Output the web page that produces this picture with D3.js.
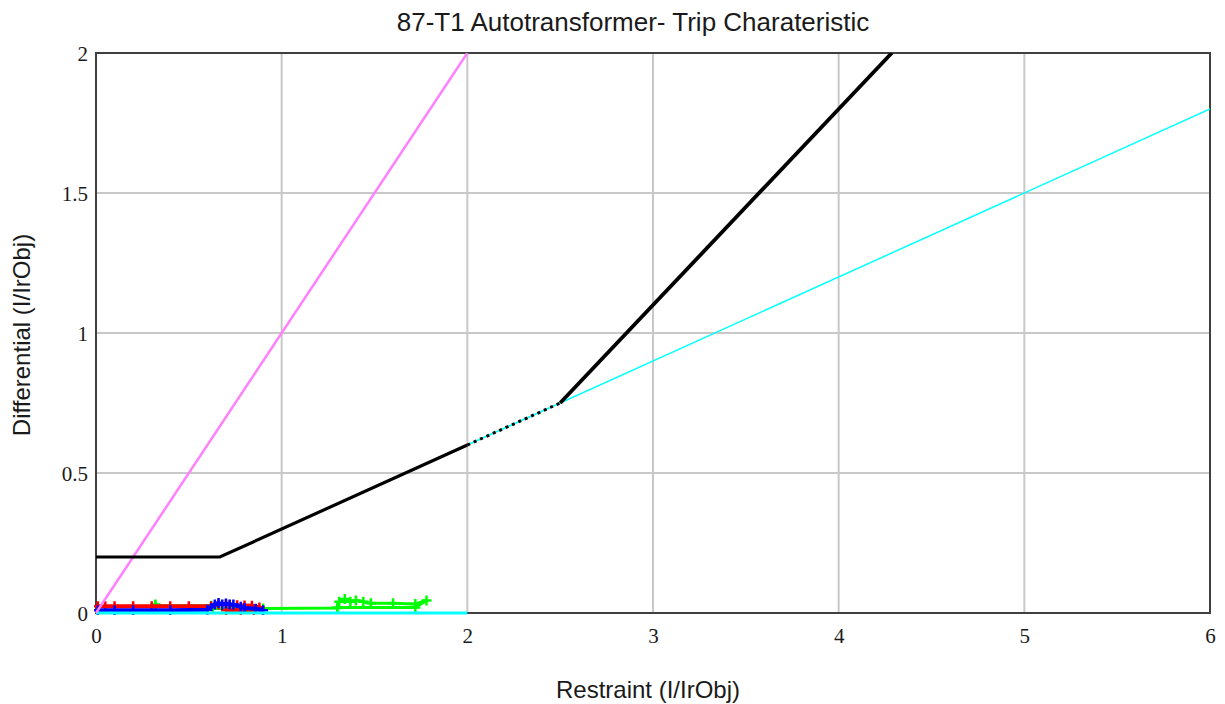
<!DOCTYPE html>
<html lang="en">
<head>
    <meta charset="UTF-8">
    <title>87-T1 Trip Charateristic</title>
    <style>
        body { margin: 0; background: #fff; }
        .tick text { font-family: "Liberation Serif", "DejaVu Serif", serif; font-size: 21px; fill: #1a1a1a; }
        .lbl { font-family: "Liberation Sans", Arial, sans-serif; font-size: 24px; fill: #1a1a1a; }
    </style>
</head>
<body>
<svg id="chart" width="1225" height="704"></svg>
<script src="https://cdn.jsdelivr.net/npm/d3@7"></script>
<script>
    // axis ticks
    let xTicks = [0, 1, 2, 3, 4, 5, 6]
    let yTicks = [0, 0.5, 1, 1.5, 2]

    // trip characteristic (black)
    let charX = [0, 0.667, 2, 2.5, 4.286]
    let charY = [0.2, 0.2, 0.6, 0.75, 2]

    // slope line (cyan)
    let slopeX = [2, 6]
    let slopeY = [0.6, 1.8]
    let baseX = [0, 2]
    let baseY = [0, 0]

    // unrestrained / instantaneous line (magenta)
    let instX = [0, 2]
    let instY = [0, 2]

    // test points
    let redX = [0.01, 0.05, 0.1, 0.2, 0.3, 0.4, 0.5, 0.62, 0.66, 0.7, 0.72, 0.76, 0.8, 0.84, 0.88, 0.85, 0.78, 0.7]
    let redY = [0.024, 0.024, 0.024, 0.024, 0.024, 0.024, 0.024, 0.024, 0.03, 0.03, 0.028, 0.028, 0.027, 0.026, 0.02, 0.01, 0.01, 0.01]
    let blueX = [0.01, 0.1, 0.2, 0.4, 0.6, 0.64, 0.66, 0.68, 0.7, 0.72, 0.74, 0.78, 0.8, 0.86, 0.9]
    let blueY = [0.01, 0.01, 0.01, 0.01, 0.012, 0.03, 0.036, 0.03, 0.034, 0.03, 0.03, 0.022, 0.018, 0.015, 0.01]
    let greenX = [0.32, 0.32, 0.62, 0.63, 0.9, 1.3, 1.31, 1.34, 1.37, 1.4, 1.44, 1.48, 1.6, 1.72, 1.78, 1.72, 1.3]
    let greenY = [0.03, 0.026, 0.026, 0.016, 0.016, 0.018, 0.04, 0.05, 0.04, 0.045, 0.04, 0.035, 0.035, 0.032, 0.045, 0.02, 0.02]

    let svg = d3.select("#chart")
    let m = {left: 96, top: 53, right: 1210, bottom: 613}

    let x = d3.scaleLinear().domain([0, 6]).range([m.left, m.right])
    let y = d3.scaleLinear().domain([0, 2]).range([m.bottom, m.top])

    svg.append("defs").append("clipPath").attr("id", "clip")
        .append("rect").attr("x", m.left - 2).attr("y", m.top)
        .attr("width", m.right - m.left + 2).attr("height", m.bottom - m.top + 2)

    // grid
    let grid = svg.append("g")
    grid.selectAll(".gx").data(xTicks.slice(1, -1)).enter().append("line")
        .attr("x1", d => x(d)).attr("x2", d => x(d))
        .attr("y1", m.top).attr("y2", m.bottom)
        .attr("stroke", "#c8c8c8").attr("stroke-width", 2)
    grid.selectAll(".gy").data(yTicks.slice(1, -1)).enter().append("line")
        .attr("x1", m.left).attr("x2", m.right)
        .attr("y1", d => y(d)).attr("y2", d => y(d))
        .attr("stroke", "#c8c8c8").attr("stroke-width", 2)

    // frame (under the data)
    svg.append("rect").attr("x", m.left).attr("y", m.top)
        .attr("width", m.right - m.left).attr("height", m.bottom - m.top)
        .attr("fill", "none").attr("stroke", "#404040").attr("stroke-width", 2)

    // axes
    let xAxis = svg.append("g").attr("transform", `translate(0,${m.bottom + 10})`)
        .call(d3.axisBottom(x).tickValues(xTicks).tickFormat(d3.format("")).tickSize(0))
    xAxis.select(".domain").remove()
    xAxis.selectAll("text").attr("dy", "0.8em")

    let yAxis = svg.append("g").attr("transform", `translate(${m.left - 5},0)`)
        .call(d3.axisLeft(y).tickValues(yTicks).tickFormat(d3.format("")).tickSize(0))
    yAxis.select(".domain").remove()
    yAxis.selectAll("text").attr("dy", "0.35em")

    let plot = svg.append("g").attr("clip-path", "url(#clip)")
    let line = d3.line().x(d => x(d[0])).y(d => y(d[1]))
    let pts = (xs, ys) => xs.map((v, i) => [v, ys[i]])

    // test point traces with + markers
    function trace(xs, ys, color, w) {
        let data = pts(xs, ys)
        plot.append("path").attr("d", line(data))
            .attr("fill", "none").attr("stroke", color).attr("stroke-width", w)
        plot.selectAll(null).data(data).enter().append("path")
            .attr("d", "M-5,0H5M0,-5V5")
            .attr("transform", d => `translate(${x(d[0])},${y(d[1])})`)
            .attr("stroke", color).attr("stroke-width", 2.5)
    }
    trace(greenX, greenY, "#00ff00", 3)
    trace(redX, redY, "#ff0000", 4)
    trace(blueX, blueY, "#0000ff", 4)

    plot.append("path").attr("d", line(pts(baseX, baseY)))
        .attr("fill", "none").attr("stroke", "#00ffff").attr("stroke-width", 3)

    plot.append("path").attr("d", line(pts(instX, instY)))
        .attr("fill", "none").attr("stroke", "#ff80ff").attr("stroke-width", 2.5)

    plot.append("path").attr("d", line(pts(slopeX, slopeY)))
        .attr("fill", "none").attr("stroke", "#00ffff").attr("stroke-width", 1.5)

    // black characteristic: solid, dotted over the cyan between 2 and 2.5, solid again
    let charPts = pts(charX, charY)
    plot.append("path").attr("d", line(charPts.slice(0, 3)))
        .attr("fill", "none").attr("stroke", "#000").attr("stroke-width", 3.2)
    plot.append("path").attr("d", line(charPts.slice(2, 4)))
        .attr("fill", "none").attr("stroke", "#000").attr("stroke-width", 3)
        .attr("stroke-dasharray", "3,4")
    plot.append("path").attr("d", line(charPts.slice(3)))
        .attr("fill", "none").attr("stroke", "#000").attr("stroke-width", 3.8)

    // titles
    svg.append("text").attr("class", "lbl").attr("x", 633).attr("y", 31)
        .style("font-size", "26px")
        .attr("text-anchor", "middle").text("87-T1 Autotransformer- Trip Charateristic")
    svg.append("text").attr("class", "lbl").attr("x", 648).attr("y", 698)
        .attr("text-anchor", "middle").text("Restraint (I/IrObj)")
    svg.append("text").attr("class", "lbl")
        .attr("transform", `translate(30,335) rotate(-90)`)
        .attr("text-anchor", "middle").text("Differential (I/IrObj)")
</script>
</body>
</html>
